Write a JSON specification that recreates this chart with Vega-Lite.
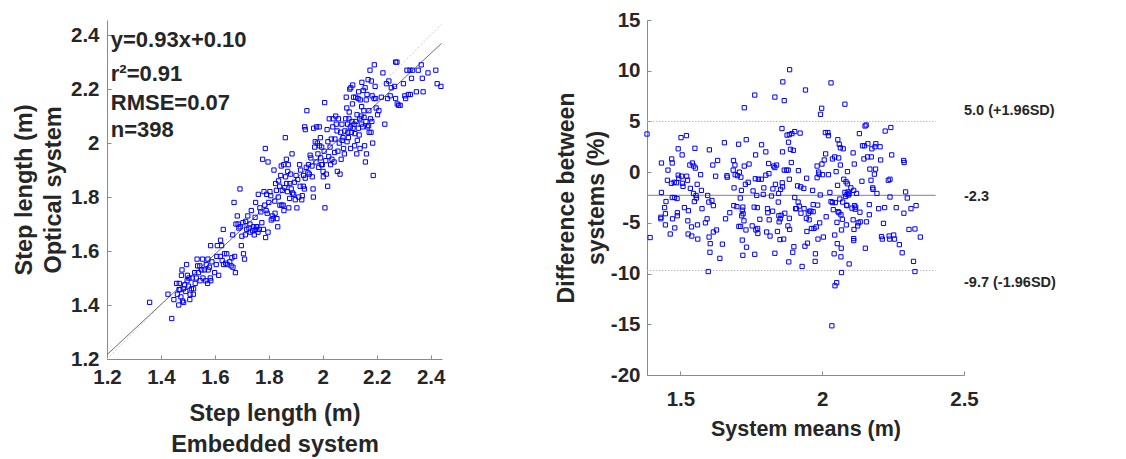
{
  "$schema": "https://vega.github.io/schema/vega-lite/v6.json",
  "autosize": {"type": "none"},
  "padding": {"left": 107, "top": 20, "right": 1019, "bottom": 439},
  "background": "white",
  "spacing": 205,
  "bounds": "flush",
  "config": {
    "view": {"stroke": null},
    "font": "Liberation Sans",
    "axis": {
      "labelFont": "Liberation Sans", "labelFontWeight": "bold", "labelFontSize": 20.5, "labelColor": "#262626",
      "titleFont": "Liberation Sans", "titleFontWeight": "bold", "titleColor": "#262626",
      "domainColor": "#8a8a8a", "tickColor": "#8a8a8a", "tickSize": -4, "grid": false,
      "labelFlush": false, "labelOverlap": false, "labelExpr": "'' + datum.value"
    }
  },
  "datasets": {
    "corr": [
      {"x":1.358,"y":1.41},{"x":1.44,"y":1.35},{"x":1.426,"y":1.44},{"x":1.448,"y":1.42},{"x":1.466,"y":1.40},{"x":1.461,"y":1.44},{"x":1.467,"y":1.457},{"x":1.471,"y":1.457},{"x":1.458,"y":1.48},{"x":1.468,"y":1.48},
      {"x":1.474,"y":1.43},{"x":1.48,"y":1.415},{"x":1.484,"y":1.41},{"x":1.476,"y":1.51},{"x":1.478,"y":1.53},{"x":1.483,"y":1.46},{"x":1.488,"y":1.475},{"x":1.492,"y":1.45},{"x":1.497,"y":1.49},{"x":1.498,"y":1.51},
      {"x":1.495,"y":1.55},{"x":1.502,"y":1.47},{"x":1.504,"y":1.50},{"x":1.507,"y":1.42},{"x":1.508,"y":1.44},{"x":1.513,"y":1.46},{"x":1.516,"y":1.50},{"x":1.52,"y":1.44},{"x":1.521,"y":1.46},{"x":1.525,"y":1.52},
      {"x":1.527,"y":1.48},{"x":1.531,"y":1.50},{"x":1.534,"y":1.57},{"x":1.536,"y":1.545},{"x":1.539,"y":1.52},{"x":1.544,"y":1.545},{"x":1.545,"y":1.49},{"x":1.551,"y":1.53},{"x":1.554,"y":1.57},{"x":1.556,"y":1.50},
      {"x":1.561,"y":1.53},{"x":1.566,"y":1.49},{"x":1.568,"y":1.55},{"x":1.573,"y":1.48},{"x":1.574,"y":1.57},{"x":1.575,"y":1.53},{"x":1.58,"y":1.54},{"x":1.583,"y":1.50},{"x":1.585,"y":1.49},{"x":1.584,"y":1.62},
      {"x":1.589,"y":1.56},{"x":1.599,"y":1.52},{"x":1.605,"y":1.55},{"x":1.607,"y":1.58},{"x":1.609,"y":1.62},{"x":1.614,"y":1.51},{"x":1.62,"y":1.58},{"x":1.621,"y":1.64},{"x":1.625,"y":1.62},{"x":1.627,"y":1.565},
      {"x":1.631,"y":1.68},{"x":1.632,"y":1.55},{"x":1.636,"y":1.59},{"x":1.64,"y":1.555},{"x":1.644,"y":1.59},{"x":1.646,"y":1.55},{"x":1.655,"y":1.56},{"x":1.66,"y":1.545},{"x":1.663,"y":1.575},{"x":1.666,"y":1.66},
      {"x":1.667,"y":1.54},{"x":1.671,"y":1.78},{"x":1.673,"y":1.58},{"x":1.676,"y":1.52},{"x":1.678,"y":1.70},{"x":1.683,"y":1.73},{"x":1.686,"y":1.70},{"x":1.689,"y":1.685},{"x":1.693,"y":1.83},{"x":1.694,"y":1.69},
      {"x":1.698,"y":1.62},{"x":1.70,"y":1.655},{"x":1.704,"y":1.705},{"x":1.706,"y":1.59},{"x":1.71,"y":1.57},{"x":1.713,"y":1.66},{"x":1.714,"y":1.71},{"x":1.718,"y":1.68},{"x":1.722,"y":1.73},{"x":1.726,"y":1.685},
      {"x":1.73,"y":1.70},{"x":1.731,"y":1.67},{"x":1.735,"y":1.75},{"x":1.74,"y":1.675},{"x":1.744,"y":1.69},{"x":1.746,"y":1.66},{"x":1.749,"y":1.725},{"x":1.751,"y":1.78},{"x":1.75,"y":1.68},{"x":1.754,"y":1.69},
      {"x":1.756,"y":1.69},{"x":1.76,"y":1.67},{"x":1.761,"y":1.81},{"x":1.764,"y":1.68},{"x":1.767,"y":1.76},{"x":1.77,"y":1.745},{"x":1.774,"y":1.705},{"x":1.777,"y":1.94},{"x":1.78,"y":1.68},{"x":1.782,"y":1.82},
      {"x":1.785,"y":1.77},{"x":1.787,"y":1.98},{"x":1.788,"y":1.65},{"x":1.79,"y":1.75},{"x":1.792,"y":1.81},{"x":1.794,"y":1.74},{"x":1.797,"y":1.93},{"x":1.797,"y":1.67},{"x":1.80,"y":1.78},{"x":1.804,"y":1.82},
      {"x":1.807,"y":1.805},{"x":1.809,"y":1.715},{"x":1.813,"y":1.73},{"x":1.816,"y":1.72},{"x":1.819,"y":1.90},{"x":1.822,"y":1.785},{"x":1.823,"y":1.74},{"x":1.825,"y":1.85},{"x":1.828,"y":1.825},{"x":1.83,"y":1.72},
      {"x":1.833,"y":1.69},{"x":1.835,"y":1.80},{"x":1.836,"y":1.86},{"x":1.84,"y":1.84},{"x":1.841,"y":1.77},{"x":1.844,"y":1.88},{"x":1.846,"y":1.915},{"x":1.848,"y":1.77},{"x":1.85,"y":1.825},{"x":1.853,"y":1.77},
      {"x":1.855,"y":1.92},{"x":1.856,"y":1.75},{"x":1.859,"y":1.835},{"x":1.861,"y":2.02},{"x":1.862,"y":1.875},{"x":1.865,"y":1.94},{"x":1.866,"y":1.85},{"x":1.869,"y":1.82},{"x":1.87,"y":1.895},{"x":1.872,"y":1.92},
      {"x":1.874,"y":1.76},{"x":1.877,"y":1.795},{"x":1.878,"y":1.85},{"x":1.881,"y":1.885},{"x":1.883,"y":1.83},{"x":1.886,"y":1.96},{"x":1.888,"y":1.815},{"x":1.892,"y":1.81},{"x":1.895,"y":1.855},{"x":1.898,"y":1.79},
      {"x":1.901,"y":1.88},{"x":1.904,"y":1.76},{"x":1.907,"y":1.865},{"x":1.911,"y":1.80},{"x":1.914,"y":1.92},{"x":1.916,"y":1.84},{"x":1.918,"y":1.90},{"x":1.922,"y":1.79},{"x":1.924,"y":1.805},{"x":1.928,"y":1.84},
      {"x":1.929,"y":1.88},{"x":1.932,"y":1.83},{"x":1.933,"y":2.06},{"x":1.935,"y":2.05},{"x":1.935,"y":1.87},{"x":1.939,"y":1.91},{"x":1.941,"y":2.12},{"x":1.945,"y":1.89},{"x":1.947,"y":1.92},{"x":1.95,"y":1.885},
      {"x":1.953,"y":1.955},{"x":1.956,"y":1.945},{"x":1.96,"y":1.915},{"x":1.961,"y":1.875},{"x":1.964,"y":1.83},{"x":1.965,"y":1.80},{"x":1.966,"y":2.055},{"x":1.97,"y":1.985},{"x":1.972,"y":2.005},{"x":1.975,"y":1.93},
      {"x":1.977,"y":2.06},{"x":1.98,"y":2.00},{"x":1.982,"y":1.96},{"x":1.985,"y":1.91},{"x":1.987,"y":2.06},{"x":1.988,"y":1.99},{"x":1.991,"y":2.02},{"x":1.992,"y":1.945},{"x":1.995,"y":1.92},{"x":1.996,"y":1.985},
      {"x":1.998,"y":1.92},{"x":2.001,"y":1.895},{"x":2.002,"y":1.875},{"x":2.005,"y":1.97},{"x":2.007,"y":2.15},{"x":2.008,"y":1.76},{"x":2.011,"y":1.935},{"x":2.013,"y":1.885},{"x":2.016,"y":2.05},{"x":2.018,"y":1.84},
      {"x":2.019,"y":2.005},{"x":2.022,"y":1.95},{"x":2.024,"y":2.09},{"x":2.027,"y":1.985},{"x":2.029,"y":1.92},{"x":2.032,"y":2.015},{"x":2.034,"y":1.94},{"x":2.037,"y":2.06},{"x":2.038,"y":2.09},{"x":2.042,"y":1.93},
      {"x":2.044,"y":1.965},{"x":2.045,"y":2.015},{"x":2.048,"y":2.10},{"x":2.05,"y":2.07},{"x":2.053,"y":2.045},{"x":2.054,"y":1.895},{"x":2.056,"y":1.97},{"x":2.058,"y":2.09},{"x":2.061,"y":2.00},{"x":2.064,"y":1.885},
      {"x":2.066,"y":2.04},{"x":2.068,"y":1.94},{"x":2.071,"y":2.07},{"x":2.072,"y":2.01},{"x":2.075,"y":2.02},{"x":2.077,"y":1.98},{"x":2.08,"y":1.96},{"x":2.082,"y":2.045},{"x":2.085,"y":2.09},{"x":2.087,"y":2.17},
      {"x":2.089,"y":2.13},{"x":2.09,"y":2.005},{"x":2.092,"y":2.07},{"x":2.093,"y":2.04},{"x":2.095,"y":2.02},{"x":2.097,"y":2.09},{"x":2.098,"y":2.115},{"x":2.10,"y":2.20},{"x":2.102,"y":2.06},{"x":2.103,"y":1.98},
      {"x":2.104,"y":2.205},{"x":2.106,"y":2.04},{"x":2.108,"y":2.08},{"x":2.11,"y":2.145},{"x":2.111,"y":2.215},{"x":2.112,"y":2.055},{"x":2.114,"y":2.17},{"x":2.116,"y":2.07},{"x":2.118,"y":1.99},{"x":2.119,"y":2.035},
      {"x":2.122,"y":2.17},{"x":2.123,"y":2.08},{"x":2.126,"y":1.96},{"x":2.127,"y":2.105},{"x":2.128,"y":2.01},{"x":2.131,"y":2.165},{"x":2.132,"y":2.055},{"x":2.133,"y":2.19},{"x":2.135,"y":2.03},{"x":2.137,"y":2.09},
      {"x":2.138,"y":1.98},{"x":2.139,"y":2.16},{"x":2.142,"y":2.10},{"x":2.143,"y":2.07},{"x":2.144,"y":2.135},{"x":2.145,"y":2.225},{"x":2.148,"y":2.06},{"x":2.15,"y":2.195},{"x":2.152,"y":2.12},{"x":2.153,"y":2.095},
      {"x":2.155,"y":1.99},{"x":2.157,"y":2.205},{"x":2.158,"y":1.93},{"x":2.16,"y":2.08},{"x":2.161,"y":2.16},{"x":2.162,"y":1.96},{"x":2.164,"y":2.18},{"x":2.166,"y":2.06},{"x":2.168,"y":2.235},{"x":2.17,"y":2.065},
      {"x":2.171,"y":2.12},{"x":2.172,"y":2.04},{"x":2.175,"y":2.27},{"x":2.177,"y":2.09},{"x":2.179,"y":2.04},{"x":2.18,"y":2.23},{"x":2.182,"y":2.08},{"x":2.183,"y":2.175},{"x":2.185,"y":2.00},{"x":2.187,"y":1.88},
      {"x":2.19,"y":2.165},{"x":2.191,"y":2.29},{"x":2.194,"y":2.21},{"x":2.196,"y":2.165},{"x":2.198,"y":2.13},{"x":2.203,"y":2.105},{"x":2.208,"y":2.12},{"x":2.217,"y":2.17},{"x":2.223,"y":2.26},{"x":2.23,"y":2.07},
      {"x":2.236,"y":2.22},{"x":2.24,"y":2.165},{"x":2.245,"y":2.23},{"x":2.25,"y":2.175},{"x":2.254,"y":2.205},{"x":2.266,"y":2.21},{"x":2.27,"y":2.165},{"x":2.27,"y":2.30},{"x":2.275,"y":2.30},{"x":2.276,"y":2.145},
      {"x":2.281,"y":2.14},{"x":2.287,"y":2.14},{"x":2.299,"y":2.22},{"x":2.304,"y":2.175},{"x":2.307,"y":2.165},{"x":2.312,"y":2.27},{"x":2.317,"y":2.18},{"x":2.323,"y":2.27},{"x":2.325,"y":2.18},{"x":2.329,"y":2.24},
      {"x":2.333,"y":2.27},{"x":2.347,"y":2.19},{"x":2.354,"y":2.27},{"x":2.365,"y":2.29},{"x":2.369,"y":2.24},{"x":2.372,"y":2.19},{"x":2.39,"y":2.26},{"x":2.419,"y":2.27},{"x":2.424,"y":2.22},{"x":2.438,"y":2.21}
    ],
    "bland": [
      {"x":1.382,"y":3.76},{"x":1.393,"y":-6.45},{"x":1.433,"y":0.9},{"x":1.433,"y":-2.0},{"x":1.431,"y":-4.45},{"x":1.431,"y":-4.6},{"x":1.444,"y":-3.5},{"x":1.449,"y":-2.9},{"x":1.447,"y":-4.1},{"x":1.447,"y":-5.2},
      {"x":1.456,"y":0.2},{"x":1.454,"y":-0.8},{"x":1.464,"y":-6.1},{"x":1.469,"y":1.3},{"x":1.471,"y":0.9},{"x":1.468,"y":-1.1},{"x":1.471,"y":-2.5},{"x":1.472,"y":-4.6},{"x":1.478,"y":-1.0},{"x":1.479,"y":-2.5},
      {"x":1.48,"y":-5.5},{"x":1.486,"y":-1.05},{"x":1.488,"y":-2.6},{"x":1.489,"y":-4.0},{"x":1.489,"y":-4.3},{"x":1.492,"y":2.3},{"x":1.492,"y":-0.3},{"x":1.494,"y":-0.6},{"x":1.502,"y":3.4},{"x":1.504,"y":-0.4},
      {"x":1.506,"y":1.7},{"x":1.507,"y":-1.1},{"x":1.509,"y":-1.4},{"x":1.514,"y":-3.5},{"x":1.521,"y":3.6},{"x":1.522,"y":-0.4},{"x":1.525,"y":-0.8},{"x":1.528,"y":-3.8},{"x":1.526,"y":-4.8},{"x":1.527,"y":-6.1},
      {"x":1.533,"y":0.7},{"x":1.535,"y":-1.6},{"x":1.539,"y":-5.4},{"x":1.54,"y":-6.3},{"x":1.542,"y":0.9},{"x":1.546,"y":-2.1},{"x":1.547,"y":0.6},{"x":1.549,"y":-2.9},{"x":1.551,"y":2.35},{"x":1.553,"y":0.4},
      {"x":1.555,"y":-2.3},{"x":1.556,"y":-2.55},{"x":1.559,"y":-1.2},{"x":1.56,"y":-5.2},{"x":1.561,"y":-6.6},{"x":1.571,"y":-0.25},{"x":1.574,"y":-1.8},{"x":1.576,"y":-3.6},{"x":1.588,"y":-5.0},{"x":1.594,"y":-4.6},
      {"x":1.596,"y":-2.3},{"x":1.6,"y":-2.95},{"x":1.602,"y":2.2},{"x":1.601,"y":-6.4},{"x":1.604,"y":-7.9},{"x":1.605,"y":-7.05},{"x":1.598,"y":-9.8},{"x":1.611,"y":-2.8},{"x":1.614,"y":0.7},{"x":1.616,"y":-3.3},
      {"x":1.616,"y":-5.9},{"x":1.624,"y":-0.4},{"x":1.627,"y":-5.7},{"x":1.631,"y":1.15},{"x":1.639,"y":-8.5},{"x":1.648,"y":-7.1},{"x":1.655,"y":2.9},{"x":1.659,"y":-4.6},{"x":1.664,"y":-0.35},{"x":1.665,"y":-0.5},
      {"x":1.674,"y":-4.0},{"x":1.686,"y":0.2},{"x":1.687,"y":1.15},{"x":1.688,"y":-3.3},{"x":1.689,"y":-1.55},{"x":1.692,"y":0.7},{"x":1.693,"y":-0.25},{"x":1.699,"y":-3.4},{"x":1.701,"y":-0.35},{"x":1.705,"y":2.75},
      {"x":1.706,"y":-5.35},{"x":1.708,"y":0.0},{"x":1.711,"y":-2.55},{"x":1.712,"y":-5.35},{"x":1.713,"y":-0.5},{"x":1.715,"y":-1.8},{"x":1.716,"y":-4.3},{"x":1.718,"y":-3.75},{"x":1.718,"y":-6.7},{"x":1.72,"y":-8.2},
      {"x":1.72,"y":-3.45},{"x":1.721,"y":-4.1},{"x":1.724,"y":-4.8},{"x":1.725,"y":6.35},{"x":1.725,"y":0.6},{"x":1.729,"y":-1.2},{"x":1.731,"y":-5.7},{"x":1.732,"y":3.2},{"x":1.733,"y":-7.4},{"x":1.739,"y":-1.0},
      {"x":1.742,"y":0.8},{"x":1.753,"y":-5.3},{"x":1.756,"y":-1.85},{"x":1.76,"y":-3.45},{"x":1.762,"y":7.6},{"x":1.764,"y":-0.65},{"x":1.762,"y":-8.1},{"x":1.765,"y":1.7},{"x":1.766,"y":-5.7},{"x":1.769,"y":-2.3},
      {"x":1.771,"y":-3.5},{"x":1.772,"y":-5.55},{"x":1.773,"y":-6.05},{"x":1.775,"y":-0.7},{"x":1.78,"y":-4.65},{"x":1.786,"y":2.7},{"x":1.785,"y":-0.7},{"x":1.792,"y":-2.2},{"x":1.794,"y":-1.55},{"x":1.801,"y":2.0},
      {"x":1.801,"y":-0.3},{"x":1.804,"y":-5.9},{"x":1.807,"y":-3.6},{"x":1.808,"y":-4.0},{"x":1.811,"y":0.85},{"x":1.812,"y":-0.15},{"x":1.813,"y":-4.7},{"x":1.816,"y":-6.3},{"x":1.821,"y":-2.35},{"x":1.825,"y":-3.85},
      {"x":1.826,"y":-1.65},{"x":1.829,"y":0.6},{"x":1.833,"y":7.4},{"x":1.833,"y":0.45},{"x":1.833,"y":-8.0},{"x":1.835,"y":-1.2},{"x":1.839,"y":0.7},{"x":1.842,"y":-5.85},{"x":1.845,"y":-2.95},{"x":1.846,"y":-2.1},
      {"x":1.847,"y":-4.3},{"x":1.848,"y":-4.9},{"x":1.851,"y":-6.65},{"x":1.852,"y":-4.6},{"x":1.853,"y":-1.7},{"x":1.855,"y":-4.25},{"x":1.858,"y":4.3},{"x":1.859,"y":-1.05},{"x":1.86,"y":2.0},{"x":1.86,"y":-1.45},
      {"x":1.861,"y":8.9},{"x":1.864,"y":-6.6},{"x":1.866,"y":7.05},{"x":1.868,"y":-4.05},{"x":1.866,"y":0.2},{"x":1.874,"y":0.2},{"x":1.876,"y":3.65},{"x":1.879,"y":-5.3},{"x":1.88,"y":0.2},{"x":1.881,"y":2.95},
      {"x":1.884,"y":3.7},{"x":1.884,"y":-0.7},{"x":1.884,"y":-4.55},{"x":1.882,"y":-8.85},{"x":1.885,"y":-5.65},{"x":1.885,"y":10.1},{"x":1.888,"y":2.25},{"x":1.891,"y":0.95},{"x":1.893,"y":3.8},{"x":1.896,"y":-7.9},
      {"x":1.898,"y":2.15},{"x":1.9,"y":-7.35},{"x":1.903,"y":4.0},{"x":1.903,"y":-2.5},{"x":1.906,"y":-3.6},{"x":1.909,"y":-3.6},{"x":1.913,"y":-1.35},{"x":1.915,"y":-2.95},{"x":1.916,"y":0.15},{"x":1.919,"y":-3.35},
      {"x":1.922,"y":3.85},{"x":1.924,"y":-1.45},{"x":1.925,"y":-4.05},{"x":1.929,"y":-9.3},{"x":1.935,"y":-1.6},{"x":1.936,"y":-3.6},{"x":1.939,"y":-7.3},{"x":1.941,"y":8.1},{"x":1.944,"y":-4.55},{"x":1.945,"y":-0.6},
      {"x":1.946,"y":-5.85},{"x":1.948,"y":-7.0},{"x":1.951,"y":-4.05},{"x":1.954,"y":-4.7},{"x":1.956,"y":-3.85},{"x":1.96,"y":-3.85},{"x":1.962,"y":-5.55},{"x":1.966,"y":-1.8},{"x":1.968,"y":-3.2},{"x":1.968,"y":-3.9},
      {"x":1.971,"y":-5.55},{"x":1.975,"y":-8.8},{"x":1.976,"y":-8.05},{"x":1.979,"y":-5.4},{"x":1.982,"y":0.6},{"x":1.982,"y":-0.55},{"x":1.984,"y":-3.25},{"x":1.985,"y":-6.6},{"x":1.987,"y":0.0},{"x":1.989,"y":-0.2},
      {"x":1.991,"y":-5.0},{"x":1.993,"y":-2.25},{"x":1.994,"y":5.7},{"x":1.998,"y":6.3},{"x":1.999,"y":0.8},{"x":2.001,"y":-0.25},{"x":2.004,"y":-6.4},{"x":2.007,"y":1.2},{"x":2.011,"y":3.9},{"x":2.012,"y":1.8},
      {"x":2.014,"y":-4.4},{"x":2.02,"y":3.9},{"x":2.022,"y":3.6},{"x":2.022,"y":-0.25},{"x":2.027,"y":-2.0},{"x":2.031,"y":8.8},{"x":2.031,"y":-2.9},{"x":2.034,"y":-15.15},{"x":2.036,"y":1.3},{"x":2.036,"y":-3.0},
      {"x":2.039,"y":-3.7},{"x":2.042,"y":-8.05},{"x":2.044,"y":1.5},{"x":2.046,"y":-3.0},{"x":2.044,"y":-6.2},{"x":2.045,"y":-11.2},{"x":2.049,"y":0.05},{"x":2.051,"y":-10.9},{"x":2.052,"y":-4.95},{"x":2.053,"y":-7.05},
      {"x":2.054,"y":-1.3},{"x":2.055,"y":3.2},{"x":2.056,"y":-3.9},{"x":2.058,"y":1.4},{"x":2.059,"y":-4.0},{"x":2.06,"y":2.75},{"x":2.062,"y":-2.65},{"x":2.064,"y":0.7},{"x":2.064,"y":2.4},{"x":2.066,"y":-4.2},
      {"x":2.066,"y":-8.35},{"x":2.067,"y":-7.5},{"x":2.068,"y":-5.7},{"x":2.068,"y":-9.9},{"x":2.071,"y":-4.65},{"x":2.072,"y":-2.95},{"x":2.074,"y":2.3},{"x":2.076,"y":-0.7},{"x":2.08,"y":6.7},{"x":2.08,"y":-2.0},
      {"x":2.082,"y":-2.4},{"x":2.084,"y":-0.95},{"x":2.085,"y":-5.2},{"x":2.086,"y":-3.25},{"x":2.087,"y":-2.2},{"x":2.087,"y":-3.3},{"x":2.089,"y":0.05},{"x":2.089,"y":-1.15},{"x":2.091,"y":-1.95},{"x":2.093,"y":-2.25},
      {"x":2.095,"y":-2.1},{"x":2.095,"y":-9.05},{"x":2.101,"y":-1.55},{"x":2.105,"y":-3.55},{"x":2.109,"y":1.9},{"x":2.111,"y":-1.8},{"x":2.109,"y":-4.7},{"x":2.112,"y":-5.65},{"x":2.111,"y":-6.55},{"x":2.111,"y":-6.75},
      {"x":2.113,"y":0.8},{"x":2.114,"y":-3.3},{"x":2.116,"y":-3.65},{"x":2.118,"y":-3.45},{"x":2.121,"y":-2.1},{"x":2.125,"y":-5.3},{"x":2.127,"y":-5.0},{"x":2.131,"y":3.8},{"x":2.133,"y":-3.95},{"x":2.134,"y":-4.9},
      {"x":2.14,"y":-0.9},{"x":2.142,"y":2.6},{"x":2.147,"y":1.3},{"x":2.149,"y":2.6},{"x":2.151,"y":4.55},{"x":2.152,"y":-7.5},{"x":2.155,"y":4.65},{"x":2.156,"y":-4.9},{"x":2.16,"y":1.5},{"x":2.161,"y":2.8},
      {"x":2.166,"y":-3.2},{"x":2.166,"y":-4.2},{"x":2.168,"y":0.3},{"x":2.172,"y":-0.8},{"x":2.173,"y":1.5},{"x":2.175,"y":2.3},{"x":2.178,"y":-1.55},{"x":2.179,"y":-1.7},{"x":2.184,"y":-0.2},{"x":2.186,"y":2.5},
      {"x":2.188,"y":0.3},{"x":2.189,"y":2.8},{"x":2.193,"y":-2.1},{"x":2.199,"y":-3.6},{"x":2.204,"y":2.5},{"x":2.206,"y":1.2},{"x":2.22,"y":-3.5},{"x":2.216,"y":-5.05},{"x":2.209,"y":-6.35},{"x":2.212,"y":-6.6},
      {"x":2.222,"y":4.05},{"x":2.233,"y":-0.8},{"x":2.236,"y":-6.3},{"x":2.239,"y":-0.7},{"x":2.238,"y":-6.6},{"x":2.239,"y":-2.45},{"x":2.242,"y":4.4},{"x":2.245,"y":1.7},{"x":2.252,"y":-6.2},{"x":2.255,"y":-6.6},
      {"x":2.261,"y":-3.5},{"x":2.272,"y":-7.15},{"x":2.282,"y":-7.95},{"x":2.287,"y":1.15},{"x":2.289,"y":0.95},{"x":2.288,"y":-4.05},{"x":2.294,"y":-1.95},{"x":2.3,"y":-2.55},{"x":2.306,"y":-5.65},{"x":2.313,"y":-3.6},
      {"x":2.322,"y":-8.8},{"x":2.327,"y":-5.6},{"x":2.327,"y":-9.8},{"x":2.331,"y":-3.3},{"x":2.346,"y":-6.4}
    ]
  },
  "hconcat": [
    {
      "width": 335,
      "height": 339,
      "encoding": {
        "x": {"field": "x", "type": "quantitative",
              "scale": {"domain": [1.2, 2.442], "nice": false, "zero": false},
              "axis": {"values": [1.2, 1.4, 1.6, 1.8, 2, 2.2, 2.4], "labelPadding": 12.5,
                       "title": ["Step length (m)", "Embedded system"], "titleFontSize": 23.5, "titleLineHeight": 31, "titlePadding": 13}},
        "y": {"field": "y", "type": "quantitative",
              "scale": {"domain": [1.2, 2.456], "nice": false, "zero": false},
              "axis": {"values": [1.2, 1.4, 1.6, 1.8, 2, 2.2, 2.4], "labelPadding": 12,
                       "title": ["Step length (m)", "Optical system"], "titleFontSize": 23.5, "titleLineHeight": 29, "titlePadding": 5}}
      },
      "layer": [
        {
          "data": {"values": [{"x": 1.2, "y": 1.2}, {"x": 2.44, "y": 2.44}]},
          "mark": {"type": "line", "color": "#cccccc", "strokeWidth": 1, "strokeDash": [2, 2]},
          "encoding": {}
        },
        {
          "data": {"values": [{"x": 1.2, "y": 1.216}, {"x": 2.44, "y": 2.369}]},
          "mark": {"type": "line", "color": "#6e6e6e", "strokeWidth": 1},
          "encoding": {}
        },
        {
          "data": {"name": "corr"},
          "mark": {"type": "point", "shape": "square", "filled": false, "color": "#0000ff", "size": 18, "strokeWidth": 1, "opacity": 1},
          "encoding": {}
        },
        {
          "data": {"values": [
            {"label": "y=0.93x+0.10", "x": 1.214, "y": 2.381},
            {"label": "r²=0.91", "x": 1.214, "y": 2.256},
            {"label": "RMSE=0.07", "x": 1.214, "y": 2.150},
            {"label": "n=398", "x": 1.214, "y": 2.047}
          ]},
          "mark": {"type": "text", "align": "left", "baseline": "middle", "font": "Liberation Sans", "fontWeight": "bold", "fontSize": 22, "color": "#262626"},
          "encoding": {"text": {"field": "label"}}
        }
      ]
    },
    {
      "width": 317,
      "height": 355,
      "encoding": {
        "x": {"field": "x", "type": "quantitative",
              "scale": {"domain": [1.382, 2.5], "nice": false, "zero": false},
              "axis": {"values": [1.5, 2, 2.5], "labelPadding": 18,
                       "title": "System means (m)", "titleFontSize": 21.5, "titlePadding": 9}},
        "y": {"field": "y", "type": "quantitative",
              "scale": {"domain": [-20, 15], "nice": false, "zero": false},
              "axis": {"values": [-20, -15, -10, -5, 0, 5, 10, 15], "labelPadding": 11,
                       "title": ["Difference between", "systems (%)"], "titleFontSize": 23, "titleLineHeight": 30, "titlePadding": 2}}
      },
      "layer": [
        {
          "data": {"values": [{"x": 1.382, "x2": 2.4, "y": -2.3}]},
          "mark": {"type": "rule", "color": "#9a9a9a", "strokeWidth": 1.3},
          "encoding": {"x2": {"field": "x2"}}
        },
        {
          "data": {"values": [{"x": 1.382, "x2": 2.4, "y": 5.0}, {"x": 1.382, "x2": 2.4, "y": -9.7}]},
          "mark": {"type": "rule", "color": "#bbbbbb", "strokeWidth": 1, "strokeDash": [1.5, 1.5]},
          "encoding": {"x2": {"field": "x2"}}
        },
        {
          "data": {"name": "bland"},
          "mark": {"type": "point", "shape": "square", "filled": false, "color": "#0000ff", "size": 18, "strokeWidth": 1, "opacity": 1},
          "encoding": {}
        },
        {
          "data": {"values": [
            {"label": "5.0 (+1.96SD)", "x": 2.5, "y": 6.03},
            {"label": "-2.3", "x": 2.5, "y": -2.42},
            {"label": "-9.7 (-1.96SD)", "x": 2.5, "y": -10.9}
          ]},
          "mark": {"type": "text", "align": "left", "baseline": "middle", "font": "Liberation Sans", "fontWeight": "bold", "fontSize": 14.5, "color": "#262626"},
          "encoding": {"text": {"field": "label"}}
        }
      ]
    }
  ]
}
